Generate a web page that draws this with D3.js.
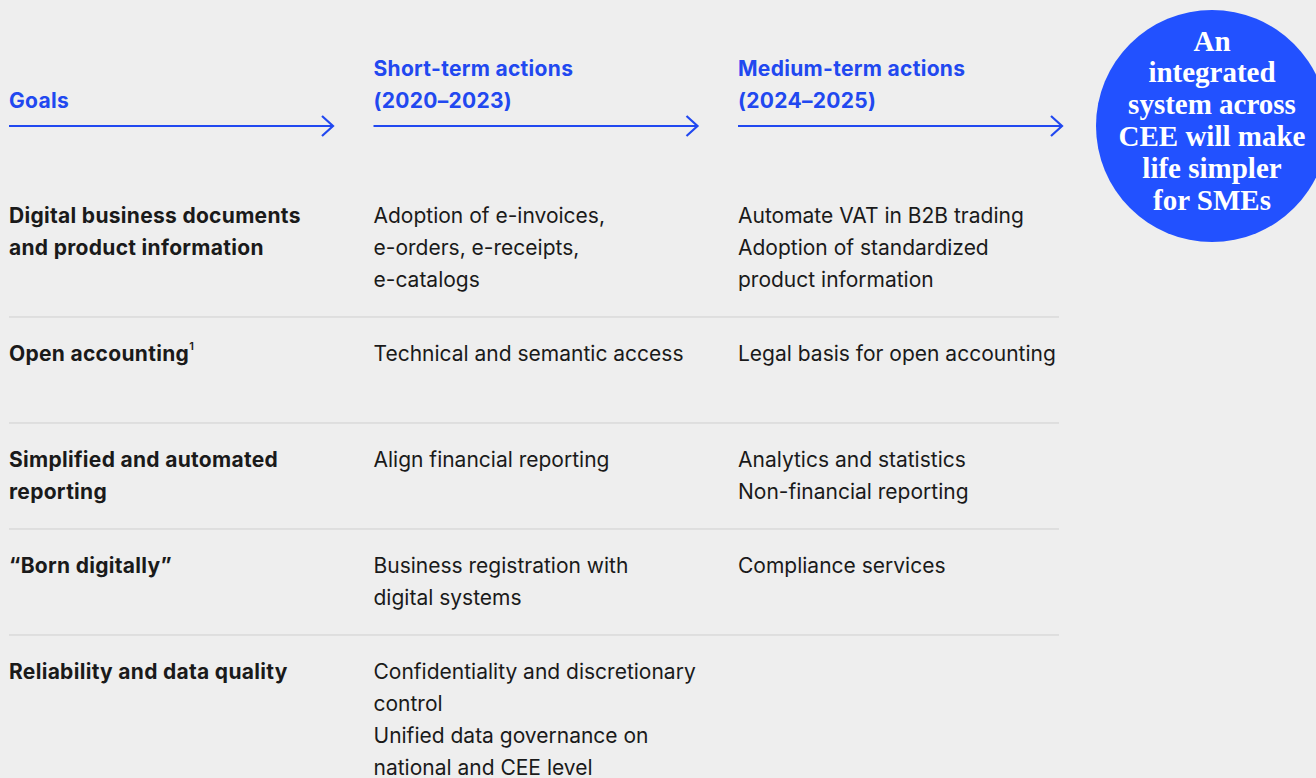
<!DOCTYPE html>
<html>
<head>
<meta charset="utf-8">
<script src="https://cdn.jsdelivr.net/npm/d3@7"></script>
<style>
  html, body { margin: 0; padding: 0; background: #eeeeee; }
  svg { display: block; }
</style>
</head>
<body>
<svg id="chart" width="1316" height="778"></svg>
<script>
// ---- data ----
const headers = [
  ["Goals"],
  ["Short-term actions", "(2020\u20132023)"],
  ["Medium-term actions", "(2024\u20132025)"]
];
const goals = [
  ["Digital business documents", "and product information"],
  ["Open accounting"],
  ["Simplified and automated", "reporting"],
  ["\u201cBorn digitally\u201d"],
  ["Reliability and data quality"]
];
const goalNotes = ["", "1", "", "", ""];
const shortTerm = [
  ["Adoption of e-invoices,", "e-orders, e-receipts,", "e-catalogs"],
  ["Technical and semantic access"],
  ["Align financial reporting"],
  ["Business registration with", "digital systems"],
  ["Confidentiality and discretionary", "control", "Unified data governance on", "national and CEE level"]
];
const mediumTerm = [
  ["Automate VAT in B2B trading", "Adoption of standardized", "product information"],
  ["Legal basis for open accounting"],
  ["Analytics and statistics", "Non-financial reporting"],
  ["Compliance services"],
  []
];
const circleLines = ["An", "integrated", "system across", "CEE will make", "life simpler", "for SMEs"];

// ---- styles ----
const BLUE = "#2148f0";
const CIRCLE = "#2251ff";
const INK = "#1a1a1a";
const SANS = "Inter, 'Noto Sans', sans-serif";
const SERIF = "'Liberation Serif', 'DejaVu Serif', serif";

const svg = d3.select("#chart");

// column scale
const col = d3.scaleLinear().domain([0, 1]).range([9, 373.5]);
const arrowLen = 324;
const lineH = 32;

// header
const headerBottom = 100;
headers.forEach((lines, i) => {
  const g = svg.append("g");
  lines.forEach((t, j) => {
    g.append("text")
      .attr("x", col(i))
      .attr("y", headerBottom - (lines.length - 1 - j) * lineH)
      .attr("dominant-baseline", "central")
      .attr("fill", BLUE)
      .attr("font-family", SANS)
      .attr("font-weight", 700)
      .attr("font-size", 21)
      .attr("letter-spacing", "0.3")
      .text(t);
  });
  const ay = 126;
  const x0 = col(i), x1 = col(i) + arrowLen;
  g.append("line")
    .attr("x1", x0).attr("x2", x1 - 1)
    .attr("y1", ay).attr("y2", ay)
    .attr("stroke", BLUE).attr("stroke-width", 2.2);
  g.append("polyline")
    .attr("points", [[x1 - 11, ay - 10], [x1, ay], [x1 - 11, ay + 10]].map(p => p.join(",")).join(" "))
    .attr("fill", "none").attr("stroke", BLUE).attr("stroke-width", 2.2);
});

// rows layout
const rowsData = goals.map((g, i) => ({
  goal: g, note: goalNotes[i], short: shortTerm[i], medium: mediumTerm[i]
}));
let rowTop = 179;
rowsData.forEach(r => {
  const L = Math.max(2, r.goal.length, r.short.length, r.medium.length);
  r.top = rowTop;
  r.h = L * lineH + 42;
  rowTop += r.h;
});

const tableRight = 1059;
rowsData.forEach((r, i) => {
  const g = svg.append("g");
  const y0 = r.top + 36;
  const cols = [r.goal, r.short, r.medium];
  cols.forEach((lines, c) => {
    lines.forEach((t, j) => {
      const txt = g.append("text")
        .attr("x", col(c))
        .attr("y", y0 + j * lineH)
        .attr("dominant-baseline", "central")
        .attr("fill", INK)
        .attr("font-family", SANS)
        .attr("font-weight", c === 0 ? 700 : 400)
        .attr("font-size", 21)
        .attr("letter-spacing", c === 0 ? "0.3" : "0")
        .text(t);
      if (c === 0 && r.note && j === lines.length - 1) {
        txt.append("tspan")
          .attr("font-size", 11)
          .attr("font-weight", 600)
          .attr("dy", -7)
          .attr("dx", 0)
          .text(r.note);
      }
    });
  });
  if (i < rowsData.length - 1) {
    g.append("line")
      .attr("x1", col(0)).attr("x2", tableRight)
      .attr("y1", r.top + r.h).attr("y2", r.top + r.h)
      .attr("stroke", "#cfcfcf").attr("stroke-width", 1);
  }
});

// circle
const cx = 1212, cy = 126, cr = 116;
svg.append("circle")
  .attr("cx", cx).attr("cy", cy).attr("r", cr)
  .attr("fill", CIRCLE);
const circLH = 31.8;
circleLines.forEach((t, j) => {
  svg.append("text")
    .attr("x", cx)
    .attr("y", cy + (j - (circleLines.length - 1) / 2) * circLH - 6)
    .attr("text-anchor", "middle")
    .attr("dominant-baseline", "central")
    .attr("fill", "#ffffff")
    .attr("font-family", SERIF)
    .attr("font-weight", 700)
    .attr("font-size", 29)
    .text(t);
});
</script>
</body>
</html>
